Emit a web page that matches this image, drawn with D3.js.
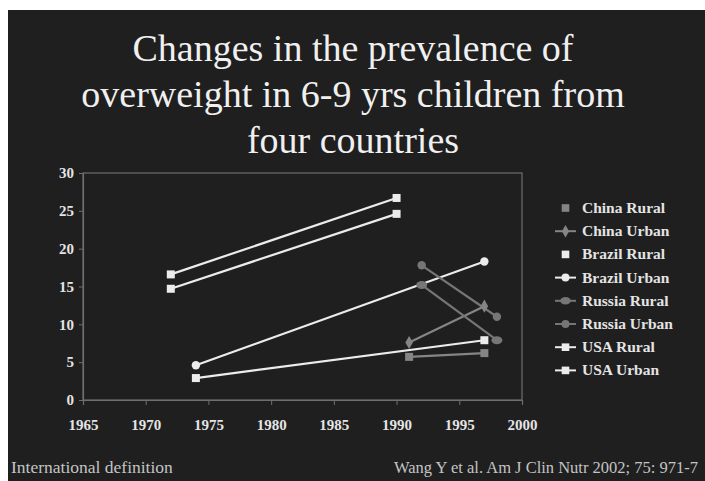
<!DOCTYPE html>
<html>
<head>
<meta charset="utf-8">
<script src="https://cdn.jsdelivr.net/npm/d3@7"></script>
<style>
  html, body { margin: 0; padding: 0; background: #ffffff; }
  svg { display: block; }
</style>
</head>
<body>
<svg id="chart" width="705" height="481"></svg>
<script>
// Prevalence of overweight (%) in 6-9 year olds, international definition
const seriesNames = ["China Rural", "China Urban", "Brazil Rural", "Brazil Urban",
                     "Russia Rural", "Russia Urban", "USA Rural", "USA Urban"];
const chinaYears = [1991, 1997];
const chinaRural = [5.7, 6.2];
const chinaUrban = [7.6, 12.4];
const brazilYears = [1974, 1997];
const brazilRural = [2.9, 7.9];
const brazilUrban = [4.6, 18.3];
const russiaYears = [1992, 1998];
const russiaRural = [15.2, 7.9];
const russiaUrban = [17.8, 11.0];
const usaYears = [1972, 1990];
const usaRural = [16.6, 26.7];
const usaUrban = [14.7, 24.6];

const xTicks = [1965, 1970, 1975, 1980, 1985, 1990, 1995, 2000];
const yTicks = [0, 5, 10, 15, 20, 25, 30];

const titleLines = ["Changes in the prevalence of",
                    "overweight in 6-9 yrs children from",
                    "four countries"];
const footLeft = "International definition";
const footRight = "Wang Y et al. Am J Clin Nutr 2002; 75: 971-7";

const series = [
  { name: seriesNames[0], years: chinaYears, values: chinaRural, color: "#858585", shape: "square" },
  { name: seriesNames[1], years: chinaYears, values: chinaUrban, color: "#858585", shape: "diamond" },
  { name: seriesNames[2], years: brazilYears, values: brazilRural, color: "#ececec", shape: "square" },
  { name: seriesNames[3], years: brazilYears, values: brazilUrban, color: "#ececec", shape: "circle" },
  { name: seriesNames[4], years: russiaYears, values: russiaRural, color: "#767676", shape: "ellipse" },
  { name: seriesNames[5], years: russiaYears, values: russiaUrban, color: "#767676", shape: "circle" },
  { name: seriesNames[6], years: usaYears, values: usaRural, color: "#ececec", shape: "square" },
  { name: seriesNames[7], years: usaYears, values: usaUrban, color: "#ececec", shape: "square" }
];

const svg = d3.select("#chart");
const serif = "'Liberation Serif', 'Times New Roman', 'DejaVu Serif', serif";

// dark slide background with a thin white margin top and left
svg.append("rect").attr("x", 8).attr("y", 10).attr("width", 697).attr("height", 471)
  .attr("fill", "#1f1f1f");

// title
svg.append("g").selectAll("text").data(titleLines).join("text")
  .attr("x", 353).attr("y", (d, i) => 61 + i * 46)
  .attr("text-anchor", "middle")
  .attr("font-family", serif).attr("font-size", 38)
  .attr("fill", "#f0f0f0")
  .text(d => d);

// plot area
const plot = { left: 83, right: 522, top: 173, bottom: 400 };
const x = d3.scaleLinear().domain([1965, 2000]).range([plot.left, plot.right]);
const y = d3.scaleLinear().domain([0, 30]).range([plot.bottom, plot.top]);

const frameColor = "#6e6e6e";
svg.append("rect")
  .attr("x", plot.left).attr("y", plot.top)
  .attr("width", plot.right - plot.left).attr("height", plot.bottom - plot.top)
  .attr("fill", "none").attr("stroke", frameColor).attr("stroke-width", 1.2);

const xAxis = svg.append("g").attr("transform", `translate(0,${plot.bottom})`)
  .call(d3.axisBottom(x).tickValues(xTicks).tickFormat(d3.format("d")).tickSize(5).tickPadding(14));
const yAxis = svg.append("g").attr("transform", `translate(${plot.left},0)`)
  .call(d3.axisLeft(y).tickValues(yTicks).tickSize(4).tickPadding(5));

[xAxis, yAxis].forEach(ax => {
  ax.select(".domain").attr("stroke", frameColor).attr("stroke-width", 1.2);
  ax.selectAll(".tick line").attr("stroke", frameColor);
  ax.selectAll(".tick text")
    .attr("fill", "#e4e4e4").attr("font-family", serif)
    .attr("font-size", 15).attr("font-weight", "bold");
});

// marker drawing helper
function drawMarker(g, shape, color, cx, cy, scale) {
  const s = scale || 1;
  if (shape === "square") {
    g.append("rect").attr("x", cx - 4 * s).attr("y", cy - 4 * s)
      .attr("width", 8 * s).attr("height", 8 * s).attr("fill", color);
  } else if (shape === "diamond") {
    g.append("path").attr("d", d3.symbol(d3.symbolDiamond, 50 * s * s)())
      .attr("transform", `translate(${cx},${cy})`).attr("fill", color);
  } else if (shape === "ellipse") {
    g.append("ellipse").attr("cx", cx).attr("cy", cy).attr("rx", 5.5 * s).attr("ry", 4 * s)
      .attr("fill", color);
  } else {
    g.append("circle").attr("cx", cx).attr("cy", cy).attr("r", 4.2 * s).attr("fill", color);
  }
}

// series lines and markers
const line = d3.line().x(d => x(d[0])).y(d => y(d[1]));
const marks = svg.append("g");
series.forEach(s => {
  const pts = s.years.map((yr, i) => [yr, s.values[i]]);
  marks.append("path").datum(pts).attr("d", line)
    .attr("fill", "none").attr("stroke", s.color).attr("stroke-width", 2.2);
});
series.forEach(s => {
  s.years.forEach((yr, i) => drawMarker(marks, s.shape, s.color, x(yr), y(s.values[i])));
});

// legend
const legend = svg.append("g");
series.forEach((s, i) => {
  const ly = 208 + i * 23.2;
  if (i !== 0 && i !== 2) {
    legend.append("line").attr("x1", 555).attr("x2", 576).attr("y1", ly).attr("y2", ly)
      .attr("stroke", s.color).attr("stroke-width", 2);
  }
  drawMarker(legend, s.shape, s.color, 565.5, ly, 0.95);
  legend.append("text").attr("x", 582).attr("y", ly + 5)
    .attr("font-family", serif).attr("font-size", 15.5).attr("font-weight", "bold")
    .attr("fill", "#e4e4e4").text(s.name);
});

// footer notes
svg.append("text").attr("x", 11).attr("y", 473)
  .attr("font-family", serif).attr("font-size", 17.5).attr("fill", "#c4c4c4").text(footLeft);
svg.append("text").attr("x", 698).attr("y", 473).attr("text-anchor", "end")
  .attr("font-family", serif).attr("font-size", 16.5).attr("fill", "#c4c4c4").text(footRight);
</script>
</body>
</html>
